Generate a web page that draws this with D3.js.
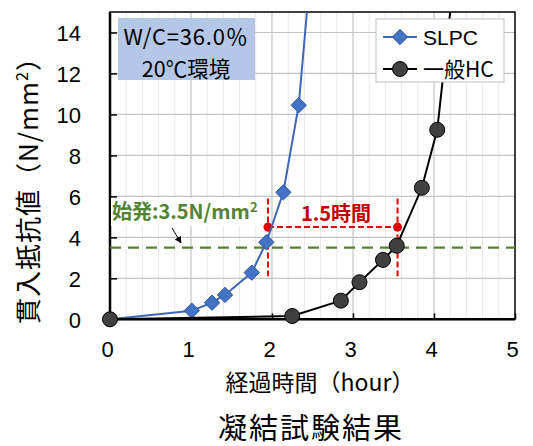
<!DOCTYPE html>
<html>
<head>
<meta charset="utf-8">
<script src="https://cdn.jsdelivr.net/npm/d3@7"></script>
<style>
body { margin: 0; background: #fff; }
svg text { font-family: "Liberation Sans", Arial, sans-serif; }
.jp { font-family: "Noto Sans CJK JP", sans-serif; }
</style>
</head>
<body>
<div id="chart"></div>
<script>
//data
var slpcHours = [0, 1.01, 1.26, 1.42, 1.75, 1.93, 2.14, 2.33, 2.5];
var slpcValues = [0, 0.42, 0.81, 1.19, 2.28, 3.76, 6.2, 10.45, 18.1];
var hcHours = [0, 2.25, 2.85, 3.08, 3.37, 3.54, 3.85, 4.04, 4.3];
var hcValues = [0, 0.16, 0.91, 1.81, 2.9, 3.59, 6.42, 9.25, 18.6];
var xTicks = [0, 1, 2, 3, 4, 5];
var yTicks = [0, 2, 4, 6, 8, 10, 12, 14];
var seriesNames = ["SLPC", "一般HC"];
var initialSet = 3.5;
var markTimes = [1.95, 3.55];
var markLevel = 4.5;

(function(){

window.onload = setChart;

function setChart(){

    var width = 533, height = 446;
    var svg = d3.select("#chart")
        .append("svg")
        .attr("width", width)
        .attr("height", height);

    var x = d3.scaleLinear().domain([0, 5]).range([110, 515]);
    var y = d3.scaleLinear().domain([0, 15]).range([319.3, 12]);

    //clip for lines leaving the top
    svg.append("clipPath").attr("id", "plotClip")
        .append("rect")
        .attr("x", x(0) - 10).attr("y", y(15))
        .attr("width", x(5) - x(0) + 10).attr("height", y(0) - y(15) + 10);

    //minor vertical grid
    svg.selectAll(".minorGrid")
        .data(d3.range(0, 5.01, 0.2).filter(function(d){ return Math.abs(d - Math.round(d)) > 0.01; }))
        .enter().append("line")
        .attr("x1", function(d){ return x(d); }).attr("x2", function(d){ return x(d); })
        .attr("y1", y(0)).attr("y2", y(15))
        .attr("stroke", "#e8e8e8").attr("stroke-width", 1);

    //major grid
    svg.selectAll(".vGrid")
        .data(xTicks.slice(1, -1))
        .enter().append("line")
        .attr("x1", function(d){ return x(d); }).attr("x2", function(d){ return x(d); })
        .attr("y1", y(0)).attr("y2", y(15))
        .attr("stroke", "#c4c4c4").attr("stroke-width", 1.2);
    svg.selectAll(".hGrid")
        .data(yTicks.slice(1))
        .enter().append("line")
        .attr("x1", x(0)).attr("x2", x(5))
        .attr("y1", function(d){ return y(d); }).attr("y2", function(d){ return y(d); })
        .attr("stroke", "#c4c4c4").attr("stroke-width", 1.2);

    //axes
    var xAxis = d3.axisBottom(x).tickValues(xTicks).tickFormat(d3.format("d"))
        .tickSizeInner(-6).tickSizeOuter(0).tickPadding(22);
    var yAxis = d3.axisLeft(y).tickValues(yTicks).tickFormat(d3.format("d"))
        .tickSizeInner(-7).tickSizeOuter(0).tickPadding(29);

    var gx = svg.append("g").attr("transform", "translate(0," + y(0) + ")").call(xAxis);
    var gy = svg.append("g").attr("transform", "translate(" + x(0) + ",0)").call(yAxis);
    [gx, gy].forEach(function(g){
        g.select(".domain").remove();
        g.selectAll("line").attr("stroke", "#000").attr("stroke-width", 1.5);
        g.selectAll("text").attr("font-size", 22).attr("fill", "#000")
            .attr("font-family", "'Liberation Sans', Arial, sans-serif");
    });
    gy.selectAll("text").attr("dy", "0.36em");
    gx.selectAll("text").attr("dx", -3);

    //frame
    svg.append("rect")
        .attr("x", x(0)).attr("y", y(15))
        .attr("width", x(5) - x(0)).attr("height", y(0) - y(15))
        .attr("fill", "none").attr("stroke", "#000").attr("stroke-width", 1.5);
    svg.append("line")
        .attr("x1", x(0)).attr("x2", x(5)).attr("y1", y(0)).attr("y2", y(0))
        .attr("stroke", "#000").attr("stroke-width", 2.5);
    svg.append("line")
        .attr("x1", x(0)).attr("x2", x(0)).attr("y1", y(0)).attr("y2", y(15))
        .attr("stroke", "#000").attr("stroke-width", 2.5);

    //initial set line
    svg.append("line")
        .attr("x1", x(0)).attr("x2", x(5))
        .attr("y1", y(initialSet)).attr("y2", y(initialSet))
        .attr("stroke", "#548235").attr("stroke-width", 2.2)
        .attr("stroke-dasharray", "11,7");

    setAnnotations(svg, x, y);
    setSeries(svg, x, y);
    setLabels(svg);
    setLegend(svg);
};

//red 1.5 hour marker and green label
function setAnnotations(svg, x, y){

    var red = "#e00000";
    markTimes.forEach(function(t){
        svg.append("line")
            .attr("x1", x(t)).attr("x2", x(t))
            .attr("y1", y(5.9)).attr("y2", y(2.1))
            .attr("stroke", red).attr("stroke-width", 2)
            .attr("stroke-dasharray", "6,3");
    });
    svg.append("line")
        .attr("x1", x(markTimes[0])).attr("x2", x(markTimes[1]))
        .attr("y1", y(markLevel)).attr("y2", y(markLevel))
        .attr("stroke", red).attr("stroke-width", 2)
        .attr("stroke-dasharray", "6,3");

    svg.append("text")
        .attr("class", "jp")
        .attr("x", 336).attr("y", 221)
        .attr("text-anchor", "middle")
        .attr("font-size", 20).attr("font-weight", "bold")
        .attr("fill", "#c00000")
        .text("1.5時間");

    //green label with white background
    svg.append("rect")
        .attr("x", 111).attr("y", 198)
        .attr("width", 152).attr("height", 28)
        .attr("fill", "#fff");
    var lbl = svg.append("text")
        .attr("class", "jp")
        .attr("x", 112).attr("y", 219)
        .attr("font-size", 20).attr("font-weight", "bold")
        .attr("fill", "#548235");
    lbl.append("tspan").text("始発:3.5N/mm");
    lbl.append("tspan").attr("font-size", 13).attr("dy", -7).text("2");

    //small arrow
    svg.append("defs").append("marker")
        .attr("id", "arrowHead")
        .attr("viewBox", "0 0 10 10")
        .attr("refX", 9).attr("refY", 5)
        .attr("markerWidth", 7).attr("markerHeight", 7)
        .attr("orient", "auto")
        .append("path").attr("d", "M0,0 L10,5 L0,10 Z").attr("fill", "#000");
    svg.append("line")
        .attr("x1", 172).attr("y1", 228)
        .attr("x2", 181).attr("y2", 243)
        .attr("stroke", "#000").attr("stroke-width", 1)
        .attr("marker-end", "url(#arrowHead)");

    //red dots at the marker ends
    markTimes.forEach(function(t){
        svg.append("circle")
            .attr("cx", x(t)).attr("cy", y(markLevel))
            .attr("r", 4.5).attr("fill", red);
    });
};

//data lines and markers
function setSeries(svg, x, y){

    var slpc = slpcHours.map(function(d, i){ return [d, slpcValues[i]]; });
    var hc = hcHours.map(function(d, i){ return [d, hcValues[i]]; });

    var line = d3.line()
        .x(function(d){ return x(d[0]); })
        .y(function(d){ return y(d[1]); });

    var clip = svg.append("g").attr("clip-path", "url(#plotClip)");

    clip.append("path")
        .datum(slpc)
        .attr("d", line)
        .attr("fill", "none").attr("stroke", "#3f67b8").attr("stroke-width", 2);

    var diamond = d3.symbol().type(d3.symbolDiamond2).size(150);
    clip.selectAll(".slpcPt")
        .data(slpc.filter(function(d){ return d[1] <= 15; }))
        .enter().append("path")
        .attr("d", diamond)
        .attr("transform", function(d){ return "translate(" + x(d[0]) + "," + y(d[1]) + ")"; })
        .attr("fill", "#4472c4").attr("stroke", "#2f5597").attr("stroke-width", 1);

    clip.append("path")
        .datum(hc)
        .attr("d", line)
        .attr("fill", "none").attr("stroke", "#000").attr("stroke-width", 2);

    clip.selectAll(".hcPt")
        .data(hc.filter(function(d){ return d[1] <= 15; }))
        .enter().append("circle")
        .attr("cx", function(d){ return x(d[0]); })
        .attr("cy", function(d){ return y(d[1]); })
        .attr("r", 7.5)
        .attr("fill", "#404040").attr("stroke", "#000").attr("stroke-width", 1);
};

//titles and condition box
function setLabels(svg){

    svg.append("rect")
        .attr("x", 118).attr("y", 18)
        .attr("width", 137).attr("height", 62)
        .attr("fill", "#b4c7e7");
    svg.append("text").attr("class", "jp")
        .attr("x", 186).attr("y", 45)
        .attr("text-anchor", "middle").attr("font-size", 22)
        .attr("letter-spacing", 0.8)
        .text("W/C=36.0％");
    svg.append("text").attr("class", "jp")
        .attr("x", 186).attr("y", 76.5)
        .attr("text-anchor", "middle").attr("font-size", 21.5)
        .text("20℃環境");

    var yt = svg.append("text").attr("class", "jp")
        .attr("transform", "translate(38,184) rotate(-90)")
        .attr("text-anchor", "middle").attr("font-size", 26)
        .attr("letter-spacing", 1);
    yt.append("tspan").text("貫入抵抗値（N/mm");
    yt.append("tspan").attr("font-size", 16).attr("dy", -10).text("2");
    yt.append("tspan").attr("dy", 10).text("）");

    svg.append("text").attr("class", "jp")
        .attr("x", 320).attr("y", 391)
        .attr("text-anchor", "middle").attr("font-size", 23)
        .text("経過時間（hour）");

    svg.append("text").attr("class", "jp")
        .attr("x", 311).attr("y", 439)
        .attr("text-anchor", "middle").attr("font-size", 29)
        .attr("letter-spacing", 2)
        .text("凝結試験結果");
};

//legend box
function setLegend(svg){

    svg.append("rect")
        .attr("x", 376).attr("y", 19)
        .attr("width", 128).attr("height", 63)
        .attr("fill", "#fff").attr("stroke", "#bfbfbf").attr("stroke-width", 1);

    var rows = svg.selectAll(".legendRow")
        .data(seriesNames)
        .enter().append("g")
        .attr("transform", function(d, i){ return "translate(0," + (37 + i * 32) + ")"; });

    rows.append("line")
        .attr("x1", 383).attr("x2", 417)
        .attr("stroke", function(d, i){ return i === 0 ? "#3f67b8" : "#000"; })
        .attr("stroke-width", 2);

    rows.each(function(d, i){
        var g = d3.select(this);
        if (i === 0) {
            g.append("path")
                .attr("d", d3.symbol().type(d3.symbolDiamond2).size(150))
                .attr("transform", "translate(400,0)")
                .attr("fill", "#4472c4").attr("stroke", "#2f5597");
        } else {
            g.append("circle").attr("cx", 400).attr("r", 7.5)
                .attr("fill", "#404040").attr("stroke", "#000");
        }
    });

    rows.append("text")
        .attr("class", function(d, i){ return i === 1 ? "jp" : null; })
        .attr("x", 423).attr("dy", "0.36em")
        .attr("font-size", 21)
        .text(function(d){ return d; });
};

})();
</script>
</body>
</html>
